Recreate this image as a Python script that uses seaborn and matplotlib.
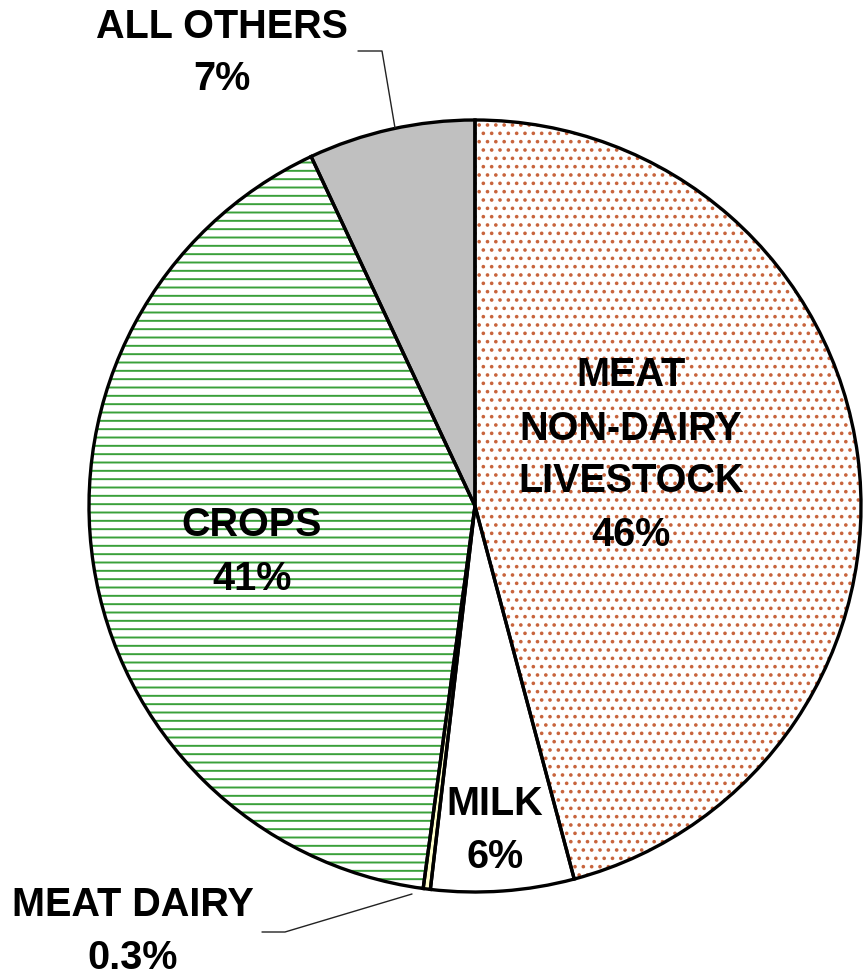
import matplotlib
matplotlib.use("Agg")
import matplotlib.pyplot as plt
import seaborn as sns

# ---- data ----
categories = ["MEAT\nNON-DAIRY\nLIVESTOCK", "MILK", "MEAT DAIRY", "CROPS", "ALL OTHERS"]
shares = [46, 6, 0.3, 41, 7]
pct_labels = ["46%", "6%", "0.3%", "41%", "7%"]

# ---- style ----
face_colors = ["white", "white", "#FFFFCC", "white", "#C0C0C0"]
hatch_colors = ["#C8643C", "white", "#FFFFCC", "#3AA03A", "#C0C0C0"]
hatches = ["..", "", "", "--", ""]

sns.set_theme(style="white")
plt.rcParams["font.family"] = ["Liberation Sans", "DejaVu Sans"]
plt.rcParams["hatch.linewidth"] = 1.4

W, H = 863, 978
fig = plt.figure(figsize=(W / 100, H / 100), dpi=100)
cx, cy, R = 475, 507, 386
ax = fig.add_axes([(cx - R) / W, (H - cy - R) / H, 2 * R / W, 2 * R / H])

# hatched fills
wedges, _ = ax.pie(shares, startangle=90, counterclock=False, radius=1,
                   colors=face_colors, wedgeprops=dict(linewidth=0))
for w, hc, h in zip(wedges, hatch_colors, hatches):
    w.set_edgecolor(hc)
    w.set_hatch(h)
    w.set_linewidth(0)
# outlines
ax.pie(shares, startangle=90, counterclock=False, radius=1,
       colors=["none"] * len(shares),
       wedgeprops=dict(linewidth=2.4, edgecolor="black", facecolor="none"))

ax.set_xlim(-1, 1)
ax.set_ylim(-1, 1)
ax.set_aspect("equal")
ax.axis("off")

def P(px, py):
    return ((px - cx) / R, (cy - py) / R)

fs = 28.5
ls = 1.5
label_pos = [P(631, 455), P(495, 831), P(133, 932), P(252, 552), P(222, 53)]
for cat, pct, pos in zip(categories, pct_labels, label_pos):
    ax.text(pos[0], pos[1], f"{cat}\n{pct}", ha="center", va="center",
            multialignment="center", fontsize=fs, fontweight="bold",
            linespacing=ls, clip_on=False, color="black")

# leader lines
for pts in ([P(358, 52), P(382, 52), P(395, 129)],
            [P(262, 933), P(285, 933), P(412, 895)]):
    xs = [p[0] for p in pts]
    ys = [p[1] for p in pts]
    ax.plot(xs, ys, color="#222222", lw=1.0, clip_on=False)

fig.savefig("out.png", dpi=100)
